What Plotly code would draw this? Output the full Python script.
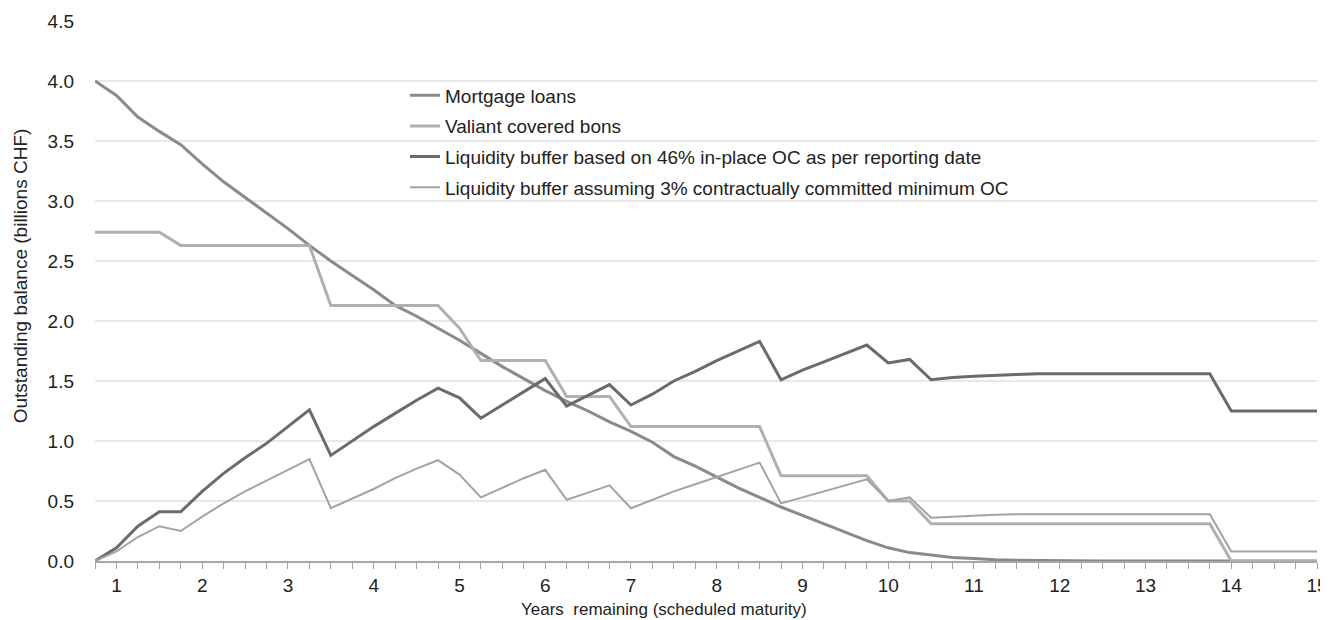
import plotly.graph_objects as go

years = [0.75 + 0.25 * i for i in range(58)]

mortgage_loans = [4.00, 3.88, 3.70, 3.58, 3.47, 3.31, 3.16, 3.03, 2.90, 2.77, 2.63,
                  2.50, 2.38, 2.26, 2.13, 2.04, 1.94, 1.84, 1.73, 1.62, 1.52, 1.42,
                  1.33, 1.25, 1.16, 1.08, 0.99, 0.87, 0.79, 0.70, 0.61, 0.53, 0.45,
                  0.38, 0.31, 0.24, 0.17, 0.11, 0.07, 0.05, 0.03, 0.02, 0.01, 0.007,
                  0.004, 0.002, 0.0, 0.0, 0.0, 0.0, 0.0, 0.0, 0.0, 0.0, 0.0, 0.0, 0.0, 0.0]

covered_bonds = [2.74, 2.74, 2.74, 2.74, 2.63, 2.63, 2.63, 2.63, 2.63, 2.63, 2.63,
                 2.13, 2.13, 2.13, 2.13, 2.13, 2.13, 1.94, 1.67, 1.67, 1.67, 1.67,
                 1.37, 1.37, 1.37, 1.12, 1.12, 1.12, 1.12, 1.12, 1.12, 1.12, 0.71,
                 0.71, 0.71, 0.71, 0.71, 0.50, 0.50, 0.31, 0.31, 0.31, 0.31, 0.31,
                 0.31, 0.31, 0.31, 0.31, 0.31, 0.31, 0.31, 0.31, 0.31, 0.0, 0.0, 0.0, 0.0, 0.0]

buffer_46 = [0.0, 0.11, 0.29, 0.41, 0.41, 0.58, 0.73, 0.86, 0.98, 1.12, 1.26,
             0.88, 1.00, 1.12, 1.23, 1.34, 1.44, 1.36, 1.19, 1.30, 1.41, 1.52,
             1.29, 1.38, 1.47, 1.30, 1.39, 1.50, 1.58, 1.67, 1.75, 1.83, 1.51,
             1.59, 1.66, 1.73, 1.80, 1.65, 1.68, 1.51, 1.53, 1.54, 1.55, 1.555,
             1.56, 1.56, 1.56, 1.56, 1.56, 1.56, 1.56, 1.56, 1.56, 1.25, 1.25, 1.25, 1.25, 1.25]

buffer_3 = [0.0, 0.08, 0.20, 0.29, 0.25, 0.37, 0.48, 0.58, 0.67, 0.76, 0.85,
            0.44, 0.52, 0.60, 0.69, 0.77, 0.84, 0.72, 0.53, 0.61, 0.69, 0.76,
            0.51, 0.57, 0.63, 0.44, 0.51, 0.58, 0.64, 0.70, 0.76, 0.82, 0.48,
            0.53, 0.58, 0.63, 0.68, 0.50, 0.53, 0.36, 0.37, 0.38, 0.385, 0.39,
            0.39, 0.39, 0.39, 0.39, 0.39, 0.39, 0.39, 0.39, 0.39, 0.08, 0.08, 0.08, 0.08, 0.08]

series_names = ["Mortgage loans",
                "Valiant covered bons",
                "Liquidity buffer based on 46% in-place OC as per reporting date",
                "Liquidity buffer assuming 3% contractually committed minimum OC"]

x_ticks = list(range(1, 16))

FONT = "Liberation Sans, Arial, sans-serif"

fig = go.Figure()
styles = [("#8a8a8a", 3), ("#b0b0b0", 3), ("#6b6b6b", 3), ("#a3a3a3", 2)]
for i, (name, ys) in enumerate(zip(series_names, [mortgage_loans, covered_bonds, buffer_46, buffer_3])):
    c, w = styles[i]
    fig.add_trace(go.Scatter(x=years, y=ys, mode="lines", name=name,
                             legendgroup=f"g{i}",
                             line=dict(color=c, width=w)))

fig.update_layout(
    width=1328, height=620,
    margin=dict(l=87, r=19, t=13, b=67, autoexpand=False),
    paper_bgcolor="white", plot_bgcolor="white",
    font=dict(family=FONT, size=19, color="#222"),
    showlegend=True,
    legend=dict(x=0.2537, y=0.8975, xanchor="left", yanchor="top",
                bgcolor="rgba(255,255,255,0)", font=dict(size=19, color="#222"),
                tracegroupgap=3, traceorder="grouped"),
    xaxis=dict(range=[0.75, 15], tickmode="array", tickvals=x_ticks, automargin=False,
               ticks="outside", ticklen=6, tickcolor="#a0a0a0", tickwidth=1,
               minor=dict(tickmode="array", tickvals=[0.75 + 0.25 * k for k in range(58)],
                          ticks="outside", ticklen=6, tickcolor="#a0a0a0", tickwidth=1),
               showgrid=False, zeroline=False, showline=True, linecolor="#a8a8a8",
               linewidth=2, tickfont=dict(size=19, color="#222")),
    yaxis=dict(range=[0, 4.5], dtick=0.5, tickformat=".1f", showgrid=True, automargin=False,
               gridcolor="#e8e8e8", gridwidth=2, zeroline=False, showline=False,
               ticks="", ticklabelstandoff=20, tickfont=dict(size=19, color="#222")),
    annotations=[
        dict(text="Years  remaining (scheduled maturity)", xref="paper", yref="paper",
             x=0.4656, y=-0.089, xanchor="center", yanchor="middle",
             showarrow=False, font=dict(size=17, color="#222")),
        dict(text="Outstanding balance (billions CHF)", xref="paper", yref="paper",
             x=-0.0614, y=0.529, xanchor="center", yanchor="middle",
             textangle=-90, showarrow=False, font=dict(size=19, color="#222")),
    ],
)

fig.write_html("out.html")
